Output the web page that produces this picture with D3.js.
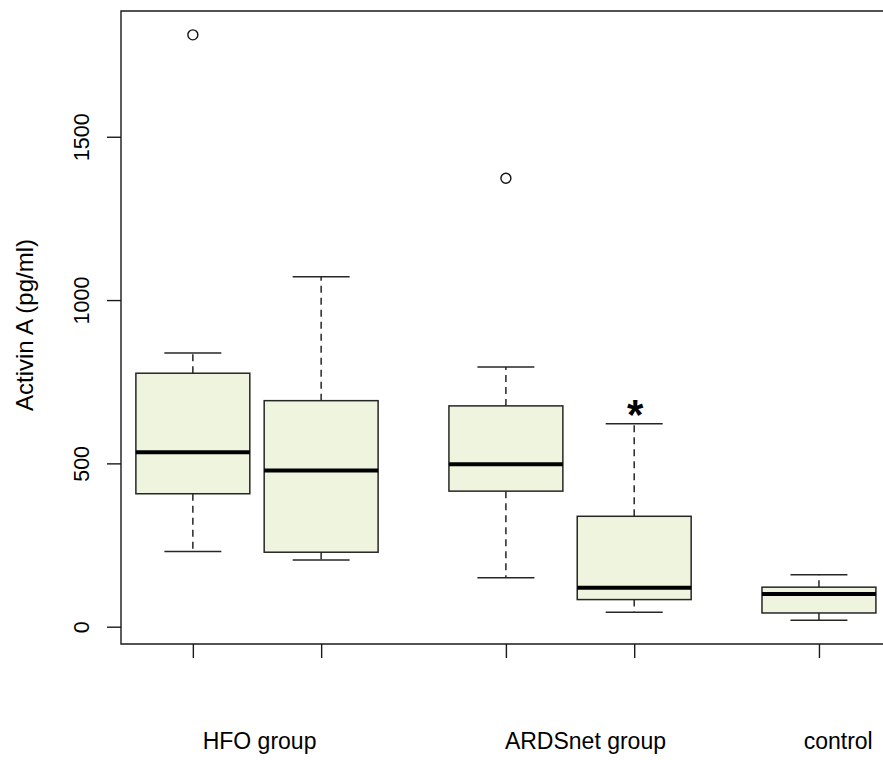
<!DOCTYPE html>
<html>
<head>
<meta charset="utf-8">
<script src="https://cdn.jsdelivr.net/npm/d3@7"></script>
<style>
  html, body { margin: 0; padding: 0; background: #fff; }
  svg { display: block; }
  text { font-family: "Liberation Sans", Arial, Helvetica, sans-serif; fill: #000; }
</style>
</head>
<body>
<svg id="chart" width="883" height="760"></svg>
<script>
// Box positions on the x axis (two treatment pairs and a control)
const positions   = [1, 2, 3.44, 4.44, 5.88];
// Five-number summaries of Activin A (pg/ml)
const whiskerLow  = [230, 204, 150, 44, 20];
const lowerQuart  = [407, 228, 415, 83, 42];
const medians     = [534, 478, 497, 119, 100];
const upperQuart  = [776, 692, 676, 338, 121];
const whiskerHigh = [838, 1071, 795, 621, 159];
// Outlying observations: [box index, value]
const outliers    = [[0, 1812], [2, 1373]];
// Group captions under the axis and where they sit
const groupLabels = ["HFO group", "ARDSnet group", "control"];
const groupLabelX = [1.52, 4.06, 6.03];
// Y axis ticks
const yTicks      = [0, 500, 1000, 1500];
const yTitle      = "Activin A (pg/ml)";
// Significance mark above the fourth box
const markIndex   = 3;
const markText    = "*";

const svg = d3.select("#chart");
const plotLeft = 121, plotTop = 11, plotBottom = 644, plotRight = 121 + 6.46 * 128.3;

const x = d3.scaleLinear().domain([0.44, 6.9]).range([plotLeft, plotRight]);
const y = d3.scaleLinear().domain([-53, 1885]).range([plotBottom, plotTop]);

const halfW = 0.444; // half box width in x units
const boxColor = "#eff4df";
const lineColor = "#262626";

const boxes = positions.map((p, i) => ({
  p, lo: whiskerLow[i], q1: lowerQuart[i], med: medians[i], q3: upperQuart[i], hi: whiskerHigh[i]
}));

const g = svg.append("g");

// Whiskers (dashed) from box edges to caps
boxes.forEach(b => {
  g.append("line").attr("x1", x(b.p)).attr("x2", x(b.p))
    .attr("y1", y(b.q3)).attr("y2", y(b.hi))
    .attr("stroke", lineColor).attr("stroke-width", 1.5).attr("stroke-dasharray", "7,5");
  g.append("line").attr("x1", x(b.p)).attr("x2", x(b.p))
    .attr("y1", y(b.q1)).attr("y2", y(b.lo))
    .attr("stroke", lineColor).attr("stroke-width", 1.5).attr("stroke-dasharray", "7,5");
  [b.lo, b.hi].forEach(v => {
    g.append("line")
      .attr("x1", x(b.p - halfW / 2)).attr("x2", x(b.p + halfW / 2))
      .attr("y1", y(v)).attr("y2", y(v))
      .attr("stroke", lineColor).attr("stroke-width", 1.5);
  });
});

// Boxes
g.selectAll("rect.box").data(boxes).join("rect")
  .attr("class", "box")
  .attr("x", d => x(d.p - halfW))
  .attr("width", d => x(d.p + halfW) - x(d.p - halfW))
  .attr("y", d => y(d.q3))
  .attr("height", d => y(d.q1) - y(d.q3))
  .attr("fill", boxColor)
  .attr("stroke", lineColor).attr("stroke-width", 1.5);

// Medians
g.selectAll("line.median").data(boxes).join("line")
  .attr("class", "median")
  .attr("x1", d => x(d.p - halfW)).attr("x2", d => x(d.p + halfW))
  .attr("y1", d => y(d.med)).attr("y2", d => y(d.med))
  .attr("stroke", "#000").attr("stroke-width", 4);

// Outliers
g.selectAll("circle.out").data(outliers).join("circle")
  .attr("class", "out")
  .attr("cx", d => x(positions[d[0]]))
  .attr("cy", d => y(d[1]))
  .attr("r", 5)
  .attr("fill", "none").attr("stroke", "#111").attr("stroke-width", 1.4);

// Significance asterisk
g.append("text")
  .attr("x", x(positions[markIndex]) + 1)
  .attr("y", y(whiskerHigh[markIndex]) + 5)
  .attr("text-anchor", "middle")
  .attr("font-size", 42).attr("font-weight", "bold")
  .text(markText);

// Frame (left, top, bottom; right side lies past the canvas edge)
svg.append("path")
  .attr("d", `M${plotRight},${plotTop}H${plotLeft}V${plotBottom}H${plotRight}`)
  .attr("fill", "none").attr("stroke", "#1a1a1a").attr("stroke-width", 1.4);

// Y axis ticks and labels
const yAxis = d3.axisLeft(y).tickValues(yTicks).tickSize(14).tickPadding(0).tickFormat(d3.format("d"));
const ya = svg.append("g").attr("transform", `translate(${plotLeft},0)`).call(yAxis);
ya.select(".domain").remove();
ya.selectAll(".tick line").attr("stroke", "#1a1a1a").attr("stroke-width", 1.4);
ya.selectAll(".tick text").remove();
ya.selectAll(".tick").append("text")
  .attr("transform", "translate(-32,0) rotate(-90)")
  .attr("text-anchor", "middle")
  .attr("font-size", 21.5)
  .attr("fill", "#000")
  .text(d => d);

// X axis ticks at each box
const xAxis = d3.axisBottom(x).tickValues(positions).tickSize(14).tickFormat("");
const xa = svg.append("g").attr("transform", `translate(0,${plotBottom})`).call(xAxis);
xa.select(".domain").remove();
xa.selectAll(".tick line").attr("stroke", "#1a1a1a").attr("stroke-width", 1.4);

// Group captions
svg.selectAll("text.group").data(groupLabels).join("text")
  .attr("class", "group")
  .attr("x", (d, i) => x(groupLabelX[i]))
  .attr("y", 749)
  .attr("text-anchor", "middle")
  .attr("font-size", 23)
  .text(d => d);

// Y axis title
svg.append("text")
  .attr("transform", "translate(33,325) rotate(-90)")
  .attr("text-anchor", "middle")
  .attr("font-size", 24)
  .text(yTitle);
</script>
</body>
</html>
